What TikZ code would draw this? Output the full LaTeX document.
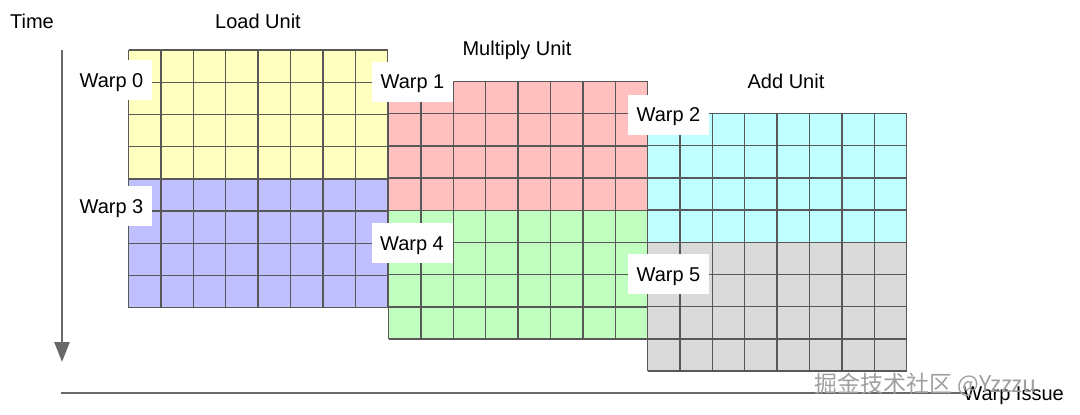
\documentclass[tikz,border=0pt]{standalone}
\usepackage{fontspec}
\setmainfont{Liberation Sans}
\newfontfamily\cjk{Noto Sans CJK SC}
\usetikzlibrary{arrows.meta}
\definecolor{cyellow}{RGB}{255,255,192}
\definecolor{cblue}{RGB}{192,192,255}
\definecolor{cred}{RGB}{255,192,192}
\definecolor{cgreen}{RGB}{192,255,192}
\definecolor{ccyan}{RGB}{192,255,255}
\definecolor{cgray}{RGB}{218,218,218}
\definecolor{gridc}{RGB}{88,88,88}
\definecolor{axisc}{RGB}{105,105,105}
\tikzset{
  gridline/.style={draw=gridc, line width=1.4pt},
  axisline/.style={draw=axisc, line width=2.6pt},
  title/.style={font=\fontsize{20}{24}\selectfont, anchor=base, inner sep=0pt},
  warplabel/.style={fill=white, minimum width=81pt, minimum height=40pt, inner sep=0pt,
    font=\fontsize{20}{24}\selectfont, text height=14.3pt, text depth=0pt},
}
\newcommand\warpgrid[4]{%
  \fill[#3] (#1,#2) rectangle ++(259.2,128.8);
  \fill[#4] (#1,#2+128.8) rectangle ++(259.2,128.8);
  \foreach \i in {0,...,8} \draw[gridline] (#1+\i*32.4,#2) -- ++(0,257.6);
  \foreach \j in {0,...,8} \draw[gridline] (#1,#2+\j*32.2) -- ++(259.2,0);
}
\begin{document}
\begin{tikzpicture}[x=1pt,y=-1pt]
\useasboundingbox (0,0) rectangle (1080,415);
% axes
\coordinate (tstart) at (62,50);
\coordinate (tend) at (62,362);
\draw[axisline, -{Triangle[width=15pt,length=20pt]}] (tstart) -- (tend);
\coordinate (istart) at (61,393);
\coordinate (iend) at (966,393);
\draw[axisline] (istart) -- (iend);
% grids
\warpgrid{128.5}{50}{cyellow}{cblue}
\warpgrid{388.5}{81.5}{cred}{cgreen}
\warpgrid{647.5}{113.5}{ccyan}{cgray}
% titles
\node[title] (time) at (32,28) {Time};
\node[title] (load) at (258,28) {Load Unit};
\node[title] (mul) at (517,56) {Multiply Unit};
\node[title] (add) at (786,88) {Add Unit};
\node[title, anchor=base east] (issue) at (1064,400) {Warp Issue};
% warp labels
\node[warplabel] (w0) at (111.5,80) {Warp 0};
\node[warplabel] (w1) at (412.5,81.5) {Warp 1};
\node[warplabel] (w2) at (668.5,114.5) {Warp 2};
\node[warplabel] (w3) at (111.5,206) {Warp 3};
\node[warplabel] (w4) at (412,243) {Warp 4};
\node[warplabel] (w5) at (668.5,274) {Warp 5};
% watermark
\node[anchor=base west, inner sep=0pt, text=gray!75, font=\cjk\fontsize{23}{26}\selectfont] (wm) at (814,392) {掘金技术社区 @Yzzzu};
\end{tikzpicture}
\end{document}
